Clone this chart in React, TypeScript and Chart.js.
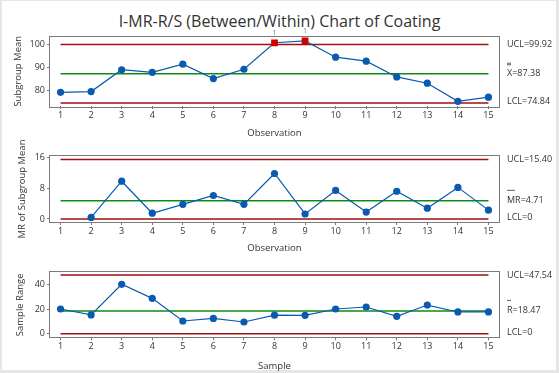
import React, { useEffect, useRef } from "react";
import { Chart, registerables } from "chart.js";
Chart.register(...registerables);

const FONT = "'Open Sans', 'Noto Sans', sans-serif";

// ---- data ----
const observations = [1, 2, 3, 4, 5, 6, 7, 8, 9, 10, 11, 12, 13, 14, 15];
const subgroupMeans = [79.4, 79.7, 89.1, 88.0, 91.5, 85.3, 89.3, 100.7, 101.5, 94.5, 92.8, 86.0, 83.3, 75.5, 77.3];
const flaggedObs = [8, 9];

const mrObservations = [2, 3, 4, 5, 6, 7, 8, 9, 10, 11, 12, 13, 14, 15];
const movingRanges = [0.4, 9.8, 1.5, 3.8, 6.1, 3.8, 11.8, 1.3, 7.4, 1.8, 7.2, 2.8, 8.2, 2.3];

const samples = [1, 2, 3, 4, 5, 6, 7, 8, 9, 10, 11, 12, 13, 14, 15];
const sampleRanges = [20.0, 15.2, 40.0, 28.6, 10.3, 12.4, 9.5, 15.0, 14.9, 20.0, 21.6, 14.1, 23.2, 17.6, 17.6];

const meanUCL = 99.92;
const meanCL = 87.38;
const meanLCL = 74.84;
const mrUCL = 15.4;
const mrCL = 4.71;
const mrLCL = 0;
const rUCL = 47.54;
const rCL = 18.47;
const rLCL = 0;

const meanTicks = [80, 90, 100];
const mrTicks = [0, 8, 16];
const rTicks = [0, 20, 40];

const BLUE = "#0a5ab0";
const RED_LINE = "#a01010";
const GREEN_LINE = "#108a10";
const FLAG_RED = "#d00000";
const TEXT = "#333333";
const FRAME = "#7a7a7a";

type Panel = {
  top: number;
  height: number;
  padTop: number;
  xAxisH: number;
  yMin: number;
  yMax: number;
  yTicks: number[];
  yTitle: string;
  yTitlePad: number;
  xTitle: string;
  xs: number[];
  ys: number[];
  ucl: number;
  cl: number;
  lcl: number;
  uclText: string;
  clText: string;
  lclText: string;
  bar: "double" | "single" | "short";
  flagged: number[];
};

const panels: Panel[] = [
  {
    top: 0, height: 140, padTop: 36.5, xAxisH: 34, yMin: 73.5, yMax: 103.4, yTicks: meanTicks,
    yTitle: "Subgroup Mean", yTitlePad: 12.5, xTitle: "Observation",
    xs: observations, ys: subgroupMeans, ucl: meanUCL, cl: meanCL, lcl: meanLCL,
    uclText: "UCL=99.92", clText: "X=87.38", lclText: "LCL=74.84", bar: "double", flagged: flaggedObs,
  },
  {
    top: 140, height: 115, padTop: 16, xAxisH: 33, yMin: -0.78, yMax: 16.34, yTicks: mrTicks,
    yTitle: "MR of Subgroup Mean", yTitlePad: 17, xTitle: "Observation",
    xs: mrObservations, ys: movingRanges, ucl: mrUCL, cl: mrCL, lcl: mrLCL,
    uclText: "UCL=15.40", clText: "MR=4.71", lclText: "LCL=0", bar: "single", flagged: [],
  },
  {
    top: 255, height: 118, padTop: 17.3, xAxisH: 35.7, yMin: -2.9, yMax: 49.7, yTicks: rTicks,
    yTitle: "Sample Range", yTitlePad: 15, xTitle: "Sample",
    xs: samples, ys: sampleRanges, ucl: rUCL, cl: rCL, lcl: rLCL,
    uclText: "UCL=47.54", clText: "R=18.47", lclText: "LCL=0", bar: "short", flagged: [],
  },
];

function hline(x0: number, x1: number, y: number) {
  return [{ x: x0, y }, { x: x1, y }];
}

function PanelChart({ p }: { p: Panel }) {
  const ref = useRef<HTMLCanvasElement>(null);
  useEffect(() => {
    if (!ref.current) return;
    const isFlag = (x: number) => p.flagged.includes(x);
    const labelsPlugin = {
      id: "labels" + p.top,
      afterDraw(chart: any) {
        const { ctx, chartArea } = chart;
        const ys = chart.scales.y;
        const xsc = chart.scales.x;
        ctx.save();
        ctx.strokeStyle = FRAME;
        ctx.lineWidth = 1;
        ctx.strokeRect(Math.round(chartArea.left) - 0.5, Math.round(chartArea.top) - 0.5,
          Math.round(chartArea.right - chartArea.left) + 1, Math.round(chartArea.bottom - chartArea.top) + 1);
        ctx.fillStyle = TEXT;
        ctx.font = `9px ${FONT}`;
        ctx.textBaseline = "middle";
        ctx.textAlign = "left";
        const lx = chartArea.right + 8;
        const yU = ys.getPixelForValue(p.ucl);
        const yC = ys.getPixelForValue(p.cl);
        const yL = ys.getPixelForValue(p.lcl);
        ctx.fillText(p.uclText, lx, yU);
        ctx.fillText(p.clText, lx, yC);
        ctx.fillText(p.lclText, lx, yL - 1.5);
        ctx.strokeStyle = TEXT;
        ctx.lineWidth = 0.8;
        ctx.beginPath();
        if (p.bar === "double") {
          ctx.moveTo(lx, yC - 10.5); ctx.lineTo(lx + 4, yC - 10.5);
          ctx.moveTo(lx, yC - 9); ctx.lineTo(lx + 4, yC - 9);
        } else if (p.bar === "single") {
          ctx.moveTo(lx, yC - 10.5); ctx.lineTo(lx + 8, yC - 10.5);
        } else {
          ctx.moveTo(lx, yC - 10.5); ctx.lineTo(lx + 4, yC - 10.5);
        }
        ctx.stroke();
        // test-failure markers
        ctx.font = `7px ${FONT}`;
        ctx.textAlign = "center";
        ctx.fillStyle = "#777";
        p.flagged.forEach((x) => {
          const i = p.xs.indexOf(x);
          const px = xsc.getPixelForValue(x);
          const py = ys.getPixelForValue(p.ys[i]);
          ctx.fillText("1", px, py - 9.5);
        });
        ctx.restore();
      },
    };
    const chart = new Chart(ref.current, {
      type: "line",
      data: {
        datasets: [
          {
            data: p.xs.map((x, i) => ({ x, y: p.ys[i] })),
            borderColor: BLUE,
            borderWidth: 1.2,
            pointStyle: p.xs.map((x) => (isFlag(x) ? "rect" : "circle")) as any,
            pointRadius: p.xs.map((x) => (isFlag(x) ? 4.8 : 3.6)),
            pointBackgroundColor: p.xs.map((x) => (isFlag(x) ? FLAG_RED : BLUE)),
            pointBorderColor: p.xs.map((x) => (isFlag(x) ? FLAG_RED : BLUE)),
            pointBorderWidth: 0,
            tension: 0,
          },
          { data: hline(1, 15, p.ucl), borderColor: RED_LINE, borderWidth: 1.5, pointRadius: 0 },
          { data: hline(1, 15, p.cl), borderColor: GREEN_LINE, borderWidth: 1.5, pointRadius: 0 },
          { data: hline(1, 15, p.lcl), borderColor: RED_LINE, borderWidth: 1.5, pointRadius: 0 },
        ],
      },
      options: {
        animation: false,
        responsive: false,
        events: [],
        layout: { padding: { left: 0, right: 60, top: p.padTop, bottom: 0 } },
        plugins: { legend: { display: false }, tooltip: { enabled: false }, title: { display: false } },
        scales: {
          x: {
            type: "linear",
            min: 0.655,
            max: 15.345,
            afterBuildTicks: (s: any) => { s.ticks = observations.map((v) => ({ value: v })); },
            afterFit: (s: any) => { s.height = p.xAxisH; },
            border: { display: false },
            grid: { drawOnChartArea: false, drawTicks: true, tickLength: 3, color: FRAME },
            ticks: { color: TEXT, font: { family: FONT, size: 9 }, padding: 1, maxRotation: 0, autoSkip: false },
            title: { display: true, text: p.xTitle, color: TEXT, font: { family: FONT, size: 9.5 }, padding: { top: 0, bottom: 1.5 } },
          },
          y: {
            type: "linear",
            min: p.yMin,
            max: p.yMax,
            afterBuildTicks: (s: any) => { s.ticks = p.yTicks.map((v) => ({ value: v })); },
            afterFit: (s: any) => { s.width = 50; },
            border: { display: false },
            grid: { drawOnChartArea: false, drawTicks: true, tickLength: 3, color: FRAME },
            ticks: { color: TEXT, font: { family: FONT, size: 9 }, padding: 2 },
            title: { display: true, text: p.yTitle, color: TEXT, font: { family: FONT, size: 9.5 }, padding: { top: p.yTitlePad, bottom: 0 } },
          },
        },
      },
      plugins: [labelsPlugin],
    });
    return () => chart.destroy();
  }, [p]);
  return (
    <canvas
      ref={ref}
      width={559}
      height={p.height}
      style={{ position: "absolute", left: 0, top: p.top, width: 559, height: p.height }}
    />
  );
}

export default function App() {
  return (
    <div style={{ position: "fixed", left: 0, top: 0, width: 559, height: 373, background: "#e6e6e6", overflow: "hidden" }}>
      <div style={{ position: "absolute", left: 2, top: 1, width: 554, height: 369, background: "#ffffff" }} />
      <div
        style={{
          position: "absolute", left: 0, top: 11, width: 559, textAlign: "center",
          fontFamily: FONT, fontSize: 16, lineHeight: "20px", color: "#333333",
        }}
      >
        I-MR-R/S (Between/Within) Chart of Coating
      </div>
      {panels.map((p) => (
        <PanelChart key={p.top} p={p} />
      ))}
    </div>
  );
}
